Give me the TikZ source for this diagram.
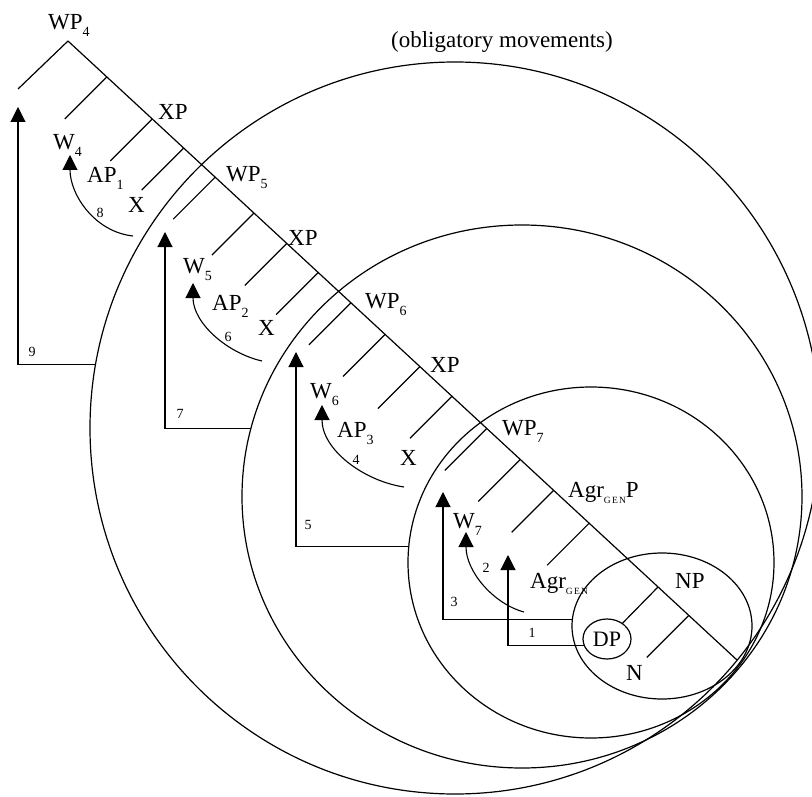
\documentclass[tikz,border=0pt]{standalone}
\usepackage{fontspec}
\setmainfont{Liberation Serif}
\usepackage{tikz}
\usetikzlibrary{shapes,arrows,positioning,calc,arrows.meta}

\newcommand{\lsub}[1]{\raisebox{-7pt}{\fontsize{14}{14}\selectfont #1}}
\newcommand{\gensub}{\raisebox{-6pt}{\fontsize{9.5}{10}\selectfont G\kern1.2pt E\kern1.2pt N}}

\begin{document}
\begin{tikzpicture}[
    x=1pt,y=-1pt,
    lbl/.style={anchor=base west,inner sep=0pt,font=\fontsize{23}{26}\selectfont},
    numlbl/.style={inner sep=0pt,font=\fontsize{14}{15}\selectfont},
    circdom/.style={ellipse,draw,line width=1.2pt,inner sep=0pt,outer sep=0pt},
    treeline/.style={line width=1.2pt},
    mvarrow/.style={-{Triangle[length=15pt,width=15pt]},line width=1.1pt}
    ]
  \useasboundingbox (0,0) rectangle (812,797);

  % domains
  \node[circdom,minimum width=730pt,minimum height=732pt] (domA) at (455,428) {};
  \node[circdom,minimum width=560pt,minimum height=543pt] (domB) at (522,496.5) {};
  \node[circdom,minimum width=366pt,minimum height=351pt] (domC) at (591,562.5) {};
  \node[circdom,minimum width=180pt,minimum height=146pt] (npdom) at (662,626) {};
  \node[circdom,minimum width=48pt,minimum height=40pt,font=\fontsize{22}{24}\selectfont] (dp) at (607,639) {DP};

  \node[font=\fontsize{23}{26}\selectfont] (oblig) at (502,42) {(obligatory movements)};

  % tree
  \coordinate (top) at (68,41);
  \coordinate (bot) at (737,660);
  \coordinate (b0) at (18,89);
  \coordinate (j1) at ($(top)!.058!(bot)$);
  \coordinate (j2) at ($(top)!.126!(bot)$);
  \coordinate (j3) at ($(top)!.173!(bot)$);
  \coordinate (j4) at ($(top)!.220!(bot)$);
  \coordinate (j5) at ($(top)!.278!(bot)$);
  \coordinate (j6) at ($(top)!.327!(bot)$);
  \coordinate (j7) at ($(top)!.374!(bot)$);
  \coordinate (j8) at ($(top)!.423!(bot)$);
  \coordinate (j9) at ($(top)!.474!(bot)$);
  \coordinate (j10) at ($(top)!.526!(bot)$);
  \coordinate (j11) at ($(top)!.574!(bot)$);
  \coordinate (j12) at ($(top)!.626!(bot)$);
  \coordinate (j13) at ($(top)!.676!(bot)$);
  \coordinate (j14) at ($(top)!.726!(bot)$);
  \coordinate (j15) at ($(top)!.779!(bot)$);
  \coordinate (j16) at ($(top)!.882!(bot)$);
  \coordinate (j17) at ($(top)!.928!(bot)$);

  \draw[treeline] (top) -- (bot);
  \draw[treeline] (top) -- (b0);
  \draw[treeline] (j1) -- ++(-42,42) (j2) -- ++(-42,42) (j3) -- ++(-42,42)
    (j4) -- ++(-42,42) (j5) -- ++(-42,42) (j6) -- ++(-42,42)
    (j7) -- ++(-42,42) (j8) -- ++(-42,42) (j9) -- ++(-42,42)
    (j10) -- ++(-42,42) (j11) -- ++(-42,42) (j12) -- ++(-42,42)
    (j13) -- ++(-42,42) (j14) -- ++(-42,42) (j15) -- ++(-42,42)
    (j17) -- ++(-42,42);
  \draw[treeline] (j16) -- (dp);

  % labels
  \node[lbl] (wp4) at (48,30) {WP\lsub{4}};
  \node[lbl] (xp4) at (158,120) {XP};
  \node[lbl] (w4) at (53,150) {W\lsub{4}};
  \node[lbl] (ap1) at (87,183) {AP\lsub{1}};
  \node[lbl] (x4) at (128,213) {X};
  \node[lbl] (wp5) at (226,182) {WP\lsub{5}};
  \node[lbl] (xp5) at (288,245) {XP};
  \node[lbl] (w5) at (183,273) {W\lsub{5}};
  \node[lbl] (ap2) at (212,310) {AP\lsub{2}};
  \node[lbl] (x5) at (258,335) {X};
  \node[lbl] (wp6) at (365,308) {WP\lsub{6}};
  \node[lbl] (xp6) at (430,372) {XP};
  \node[lbl] (w6) at (310,398) {W\lsub{6}};
  \node[lbl] (ap3) at (337,437) {AP\lsub{3}};
  \node[lbl] (x6) at (400,465) {X};
  \node[lbl] (wp7) at (502,435) {WP\lsub{7}};
  \node[lbl] (w7) at (453,528) {W\lsub{7}};
  \node[lbl] (agrp) at (568,497) {Agr\gensub P};
  \node[lbl] (agr) at (530,588) {Agr\gensub};
  \node[lbl] (np) at (675,588) {NP};
  \node[lbl] (n) at (626,680) {N};

  % movements
  \coordinate (a9) at (18,107);
  \coordinate (a7) at (165,232);
  \coordinate (a5) at (296,352);
  \coordinate (a3) at (443,492);
  \coordinate (a1) at (508,555);
  \coordinate (s8) at (133,236);
  \coordinate (a8) at (70,155);
  \coordinate (s6) at (262,361);
  \coordinate (a6) at (193,283);
  \coordinate (s4) at (404,487);
  \coordinate (a4) at (322,405);
  \coordinate (s2) at (524,612);
  \coordinate (a2) at (466,532);

  \draw[mvarrow] (domA.170) -| (a9);
  \draw[mvarrow] (domB.166) -| (a7);
  \draw[mvarrow] (domC.175) -| (a5);
  \draw[mvarrow] (npdom.176) -| (a3);
  \draw[mvarrow] (dp.195) -| (a1);
  \draw[mvarrow] (s8) .. controls +(-38,-4) and +(0,40) .. (a8);
  \draw[mvarrow] (s6) .. controls +(-35,-8) and +(0,40) .. (a6);
  \draw[mvarrow] (s4) .. controls +(-40,-6) and +(0,45) .. (a4);
  \draw[mvarrow] (s2) .. controls +(-30,-8) and +(0,40) .. (a2);

  \node[numlbl] (n9) at (32,352) {9};
  \node[numlbl] (n8) at (100,213) {8};
  \node[numlbl] (n7) at (180,414) {7};
  \node[numlbl] (n6) at (228,337) {6};
  \node[numlbl] (n5) at (308,525) {5};
  \node[numlbl] (n4) at (356,460) {4};
  \node[numlbl] (n3) at (454,602) {3};
  \node[numlbl] (n2) at (486,568) {2};
  \node[numlbl] (n1) at (532,633) {1};
\end{tikzpicture}
\end{document}
